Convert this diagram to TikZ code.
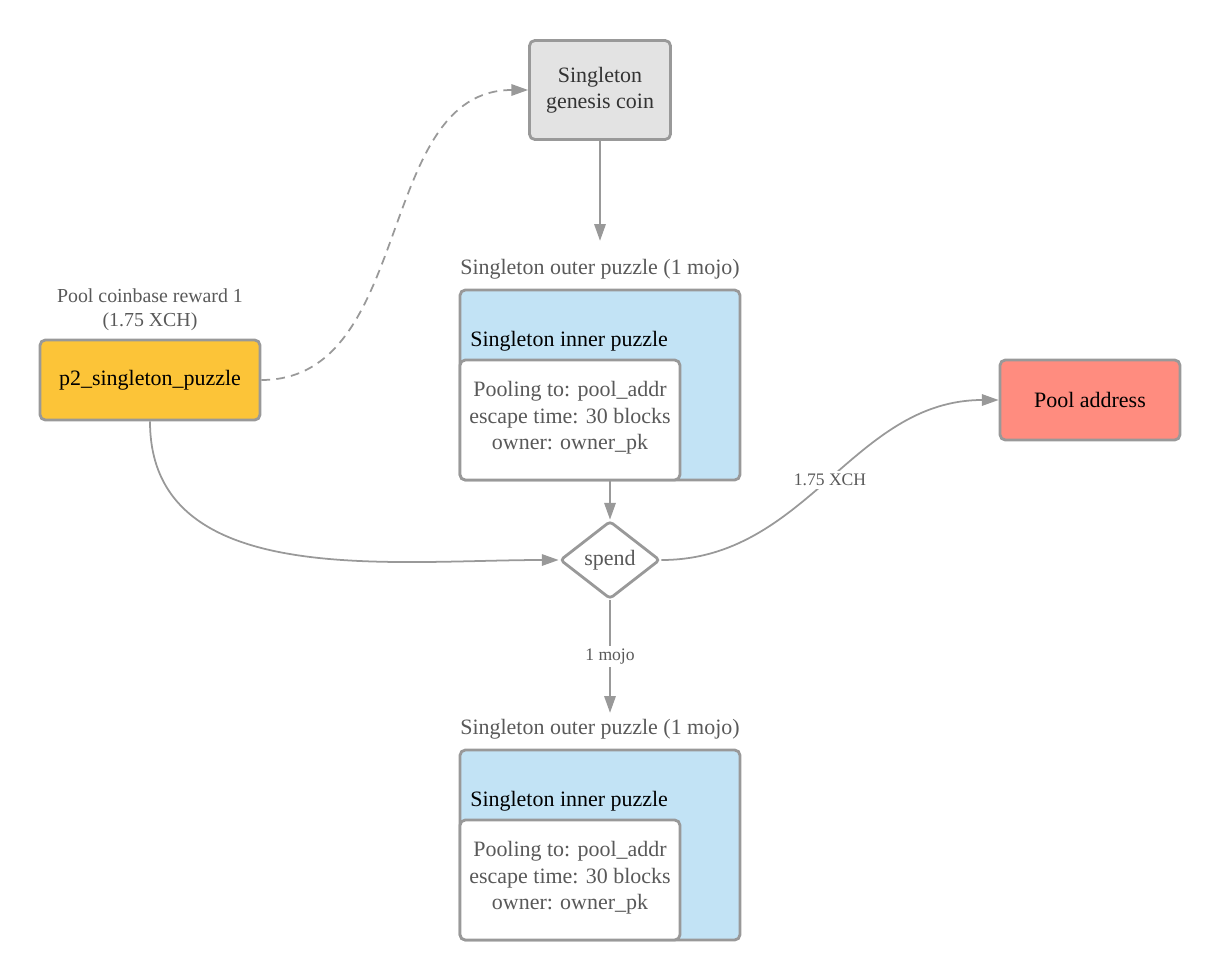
\documentclass[tikz,border=0pt]{standalone}
\usepackage{fontspec}
\setmainfont{Liberation Serif}
\usetikzlibrary{positioning}
\usetikzlibrary{arrows.meta}
\usetikzlibrary{shapes.geometric}
\definecolor{linegray}{HTML}{999999}
\definecolor{textgray}{HTML}{595959}
\definecolor{genesisgray}{HTML}{E3E3E3}
\definecolor{puzzleblue}{HTML}{C2E3F5}
\definecolor{rewardyellow}{HTML}{FCC438}
\definecolor{poolred}{HTML}{FF8C7F}

\begin{document}
\begin{tikzpicture}
    [x=0.02cm, y=-0.02cm,
    coin/.style={draw=linegray, line width=1.6pt, rounded corners=3pt, align=center, inner sep=0pt, font=\fontsize{12.5}{15}\selectfont},
    outer/.style={coin, fill=puzzleblue, minimum width=5.6cm, minimum height=3.8cm},
    inner/.style={coin, fill=white, text=textgray, minimum width=4.4cm, minimum height=2.4cm},
    spendnode/.style={diamond, draw=linegray, line width=1.6pt, fill=white, rounded corners=2pt, minimum width=2cm, minimum height=1.56cm, inner sep=0pt, text=textgray, font=\fontsize{12.5}{15}\selectfont},
    caption/.style={text=textgray, align=center, font=\fontsize{12.5}{15}\selectfont},
    amount/.style={fill=white, text=textgray, inner sep=1.5pt, font=\fontsize{10}{12}\selectfont},
    flow/.style={draw=linegray, line width=1pt, -{Triangle[length=9.5pt, width=6.5pt]}}]
     \useasboundingbox (0,0) rectangle (1220,980);
     %\draw[step=50,gray!30,very thin] (0,0) grid (1220,980);
     \node[coin, fill=genesisgray, text=black!80, minimum width=2.82cm, minimum height=1.98cm] (genesis) at (600,90) {Singleton\\genesis coin};
     \node[caption] (outerlabel1) at (600,269) {Singleton outer puzzle (1 mojo)};
     \node[outer] (outer1) at (600,385) {};
     \node[anchor=west, inner sep=0pt, font=\fontsize{12.5}{15}\selectfont] (innerlabel1) at (470,341) {Singleton inner puzzle};
     \node[inner] (inner1) at (570,420) {Pooling to: pool\_addr\\escape time: 30 blocks\\owner: owner\_pk\\[-10pt]};
     \node[caption, font=\fontsize{11.3}{13.6}\selectfont] (rewardlabel) at (150,310) {Pool coinbase reward 1\\(1.75 XCH)};
     \node[coin, fill=rewardyellow, minimum width=4.4cm, minimum height=1.6cm] (reward) at (150,380) {p2\_singleton\_puzzle};
     \node[coin, fill=poolred, minimum width=3.6cm, minimum height=1.6cm] (pool) at (1090,400) {Pool address};
     \node[spendnode] (spend) at (610,560) {spend};
     \node[caption] (outerlabel2) at (600,729) {Singleton outer puzzle (1 mojo)};
     \node[outer] (outer2) at (600,845) {};
     \node[anchor=west, inner sep=0pt, font=\fontsize{12.5}{15}\selectfont] (innerlabel2) at (470,801) {Singleton inner puzzle};
     \node[inner] (inner2) at (570,880) {Pooling to: pool\_addr\\escape time: 30 blocks\\owner: owner\_pk\\[-10pt]};
     \draw[flow, dashed, dash pattern=on 5pt off 3.5pt] (reward.east) to[out=0, in=180] (genesis.west);
     \draw[flow, shorten >=0.24cm] (genesis) -- (outerlabel1);
     \draw[flow] (outer1.south -| spend.north) -- (spend.north);
     \draw[flow] (reward.south) to[out=-90, in=180] (spend.west);
     \draw[flow] (spend.east) to[out=0, in=180] node[amount, pos=0.5] {1.75 XCH} (pool.west);
     \draw[flow] (spend.south) -- node[amount] {1 mojo} (spend.south |- outerlabel2.north);
\end{tikzpicture}
\end{document}
